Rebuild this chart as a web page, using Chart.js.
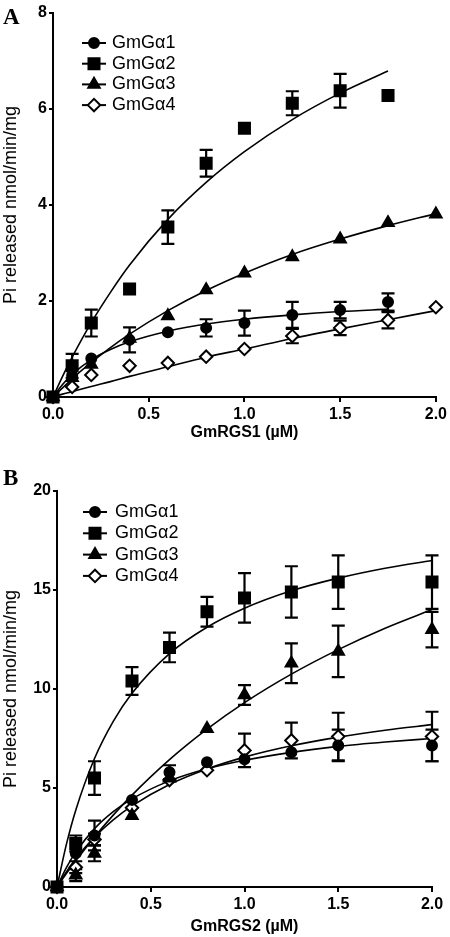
<!DOCTYPE html>
<html>
<head>
    <title>GmRGS GAP assay</title>
    <script src="https://cdn.jsdelivr.net/npm/chart.js"></script>
    <style>
        body { margin: 0; background: #fff; }
        canvas { display: block; }
    </style>
</head>
<body>
    <canvas id="chartA" width="450" height="460"></canvas>
    <canvas id="chartB" width="450" height="477"></canvas>

    <script>
        'use strict';

        // series names and tick labels
        const seriesNames = ['GmG\u03b11', 'GmG\u03b12', 'GmG\u03b13', 'GmG\u03b14'];
        const xTicks = [0, 0.5, 1.0, 1.5, 2.0];
        const yTicksA = [0, 2, 4, 6, 8];
        const yTicksB = [0, 5, 10, 15, 20];

        // panel A: GmRGS1 (uM) vs Pi released
        const doseA = [0, 0.1, 0.2, 0.4, 0.6, 0.8, 1.0, 1.25, 1.5, 1.75, 2.0];
        const a1 = [0, 0.45, 0.80, 1.19, 1.35, 1.44, 1.54, 1.71, 1.81, 1.98, null];
        const a1err = [0, 0, 0, 0.26, 0, 0.18, 0.26, 0.27, 0.17, 0.18, null];
        const a2 = [0, 0.65, 1.54, 2.25, 3.54, 4.87, 5.60, 6.12, 6.38, 6.28, null];
        const a2err = [0, 0.25, 0.28, 0, 0.35, 0.28, 0, 0.25, 0.35, 0, null];
        const a3 = [0, 0.40, 0.68, 1.22, 1.69, 2.23, 2.58, 2.92, 3.29, 3.63, 3.81];
        const a3err = [0, 0, 0, 0, 0, 0, 0, 0, 0, 0, 0];
        const a4 = [0, 0.21, 0.46, 0.65, 0.71, 0.84, 1.00, 1.27, 1.44, 1.60, 1.87];
        const a4err = [0, 0, 0, 0, 0, 0, 0, 0.15, 0.15, 0.17, 0];

        // fitted curves
        const fitX = [0, 0.05, 0.1, 0.2, 0.3, 0.4, 0.6, 0.8, 1.0, 1.25, 1.5, 1.75, 2.0];
        const fitA1 = [0, 0.26, 0.47, 0.78, 0.99, 1.15, 1.37, 1.52, 1.62, 1.71, 1.78, 1.83, null];
        const fitA2 = [0, 0.43, 0.83, 1.55, 2.18, 2.75, 3.70, 4.47, 5.11, 5.78, 6.33, 6.79, null];
        const fitA3 = [0, 0.19, 0.38, 0.72, 1.03, 1.31, 1.80, 2.22, 2.58, 2.97, 3.29, 3.57, 3.82];
        const fitA4 = [0, 0.06, 0.11, 0.22, 0.32, 0.43, 0.63, 0.83, 1.00, 1.22, 1.42, 1.61, 1.80];

        // panel B: GmRGS2 (uM) vs Pi released
        const doseB = [0, 0.1, 0.2, 0.4, 0.6, 0.8, 1.0, 1.25, 1.5, 2.0];
        const b1 = [0, 1.7, 2.6, 4.4, 5.8, 6.3, 6.45, 6.8, 7.15, 7.15];
        const b1err = [0, 0, 0.75, 0, 0.35, 0, 0, 0, 0.8, 0.8];
        const b2 = [0, 2.2, 5.5, 10.4, 12.1, 13.9, 14.6, 14.9, 15.4, 15.4];
        const b2err = [0, 0.4, 0.85, 0.7, 0.75, 0.75, 1.25, 1.3, 1.35, 1.35];
        const b3 = [0, 0.6, 1.7, 3.6, 5.5, 8.0, 9.7, 11.3, 11.9, 13.0];
        const b3err = [0, 0.3, 0.4, 0, 0, 0, 0.5, 1.0, 1.3, 0.9];
        const b4 = [0, 1.0, 2.4, 4.0, 5.4, 5.9, 6.9, 7.4, 7.6, 7.6];
        const b4err = [0, 0.3, 0.3, 0, 0, 0, 0.85, 0.9, 1.2, 1.25];

        const fitB1 = [0, 0.98, 1.76, 2.95, 3.81, 4.45, 5.36, 5.97, 6.40, 6.80, 7.10, 7.32, 7.50];
        const fitB2 = [0, 2.15, 3.88, 6.49, 8.37, 9.79, 11.79, 13.12, 14.08, 14.96, 15.60, 16.10, 16.49];
        const fitB3 = [0, 0.68, 1.32, 2.53, 3.63, 4.64, 6.43, 7.97, 9.31, 10.75, 11.99, 13.07, 14.01];
        const fitB4 = [0, 0.76, 1.43, 2.52, 3.39, 4.10, 5.18, 5.96, 6.56, 7.13, 7.57, 7.92, 8.20];

        const FONT = "'Liberation Sans', Arial, Helvetica, sans-serif";

        // marker look per series
        const markers = [
            { style: 'circle', radius: 5, fill: '#000' },
            { style: 'rect', radius: 7.8, fill: '#000' },
            { style: 'triangle', radius: 6.6, fill: '#000' },
            { style: 'rectRot', radius: 6.2, fill: '#fff' }
        ];

        function toPoints(xs, ys, errs) {
            const out = [];
            for (let i = 0; i < xs.length; i++) {
                if (ys[i] === null || ys[i] === undefined) continue;
                out.push({ x: xs[i], y: ys[i], err: errs ? errs[i] : 0 });
            }
            return out;
        }

        function drawMarker(ctx, m, x, y) {
            ctx.save();
            ctx.fillStyle = m.fill;
            ctx.strokeStyle = '#000';
            ctx.lineWidth = 2;
            ctx.beginPath();
            const r = m.radius;
            if (m.style === 'circle') {
                ctx.arc(x, y, r, 0, Math.PI * 2);
            } else if (m.style === 'rect') {
                const s = r * Math.SQRT1_2;
                ctx.rect(x - s, y - s, 2 * s, 2 * s);
            } else if (m.style === 'triangle') {
                ctx.moveTo(x, y - r);
                ctx.lineTo(x + r * 0.866, y + r * 0.5);
                ctx.lineTo(x - r * 0.866, y + r * 0.5);
                ctx.closePath();
            } else {
                ctx.moveTo(x - r, y);
                ctx.lineTo(x, y - r);
                ctx.lineTo(x + r, y);
                ctx.lineTo(x, y + r);
                ctx.closePath();
            }
            ctx.fill();
            ctx.stroke();
            ctx.restore();
        }

        // vertical error bars with caps, drawn beneath the markers
        const errorBars = {
            id: 'errorBars',
            beforeDatasetsDraw(chart) {
                const ctx = chart.ctx;
                const yScale = chart.scales.y;
                ctx.save();
                ctx.strokeStyle = '#000';
                ctx.lineWidth = 2.2;
                chart.data.datasets.forEach((ds, i) => {
                    if (!ds.isData) return;
                    const meta = chart.getDatasetMeta(i);
                    meta.data.forEach((el, j) => {
                        const p = ds.data[j];
                        if (!p.err) return;
                        const top = yScale.getPixelForValue(p.y + p.err);
                        const bot = yScale.getPixelForValue(p.y - p.err);
                        ctx.beginPath();
                        ctx.moveTo(el.x, top);
                        ctx.lineTo(el.x, bot);
                        ctx.moveTo(el.x - 6.5, top);
                        ctx.lineTo(el.x + 6.5, top);
                        ctx.moveTo(el.x - 6.5, bot);
                        ctx.lineTo(el.x + 6.5, bot);
                        ctx.stroke();
                    });
                });
                ctx.restore();
            }
        };

        // legend inside plot area plus panel letter
        const insideLegend = {
            id: 'insideLegend',
            afterDraw(chart, args, opts) {
                const ctx = chart.ctx;
                ctx.save();
                ctx.fillStyle = '#000';
                ctx.font = 'bold 23px "Liberation Serif", "Times New Roman", serif';
                ctx.textBaseline = 'alphabetic';
                ctx.fillText(opts.letter, opts.letterX, opts.letterY);

                ctx.font = '18px ' + FONT;
                ctx.textBaseline = 'middle';
                seriesNames.forEach((name, i) => {
                    const y = opts.y + i * opts.step;
                    ctx.strokeStyle = '#000';
                    ctx.lineWidth = 2;
                    ctx.beginPath();
                    ctx.moveTo(opts.x - 12, y);
                    ctx.lineTo(opts.x + 12, y);
                    ctx.stroke();
                    drawMarker(ctx, markers[i], opts.x, y);
                    ctx.fillStyle = '#000';
                    ctx.fillText(name, opts.textX, y);
                });
                ctx.restore();
            }
        };

        function makePanel(id, cfg) {
            const datasets = [];
            cfg.fits.forEach((f) => {
                datasets.push({
                    type: 'line',
                    data: toPoints(fitX, f),
                    borderColor: '#000',
                    borderWidth: 1.6,
                    pointRadius: 0,
                    fill: false,
                    cubicInterpolationMode: 'monotone',
                    clip: false,
                    order: 2
                });
            });
            cfg.series.forEach((s, i) => {
                const m = markers[i];
                datasets.push({
                    type: 'scatter',
                    label: seriesNames[i],
                    isData: true,
                    data: toPoints(cfg.dose, s, cfg.errs[i]),
                    showLine: false,
                    pointStyle: m.style,
                    pointRadius: m.radius,
                    pointBackgroundColor: m.fill,
                    pointBorderColor: '#000',
                    pointBorderWidth: 2,
                    clip: false,
                    order: 1
                });
            });

            return new Chart(document.getElementById(id), {
                type: 'scatter',
                data: { datasets: datasets },
                options: {
                    responsive: false,
                    animation: false,
                    events: [],
                    layout: { padding: cfg.padding },
                    scales: {
                        x: {
                            type: 'linear',
                            min: 0,
                            max: 2,
                            afterBuildTicks: (s) => { s.ticks = xTicks.map(v => ({ value: v })); },
                            afterFit: (s) => { s.height = cfg.xHeight; },
                            border: { display: true, color: '#000', width: 2 },
                            grid: { drawOnChartArea: false, drawTicks: true, tickLength: 5, color: '#000', lineWidth: 2 },
                            ticks: {
                                color: '#000',
                                padding: 3,
                                font: { family: FONT, size: 16, weight: 'bold' },
                                callback: (v) => Number(v).toFixed(1)
                            },
                            title: {
                                display: true,
                                text: cfg.xTitle,
                                color: '#000',
                                font: { family: FONT, size: 16, weight: 'bold' },
                                padding: { top: 0, bottom: cfg.xTitlePad }
                            }
                        },
                        y: {
                            type: 'linear',
                            min: 0,
                            max: cfg.yTicks[cfg.yTicks.length - 1],
                            afterBuildTicks: (s) => { s.ticks = cfg.yTicks.map(v => ({ value: v })); },
                            afterFit: (s) => { s.width = cfg.yWidth; },
                            border: { display: true, color: '#000', width: 2 },
                            grid: { drawOnChartArea: false, drawTicks: true, tickLength: 4, color: '#000', lineWidth: 2 },
                            ticks: {
                                color: '#000',
                                padding: 2,
                                font: { family: FONT, size: 16, weight: 'bold' }
                            },
                            title: {
                                display: true,
                                text: 'Pi released nmol/min/mg',
                                color: '#000',
                                font: { family: FONT, size: 18 },
                                padding: { top: 0, bottom: 0 }
                            }
                        }
                    },
                    plugins: {
                        legend: { display: false },
                        tooltip: { enabled: false },
                        insideLegend: cfg.legend
                    }
                },
                plugins: [errorBars, insideLegend]
            });
        }

        makePanel('chartA', {
            dose: doseA,
            series: [a1, a2, a3, a4],
            errs: [a1err, a2err, a3err, a4err],
            fits: [fitA1, fitA2, fitA3, fitA4],
            yTicks: yTicksA,
            xTitle: 'GmRGS1 (\u00b5M)',
            padding: { top: 13, right: 12, left: 0, bottom: 0 },
            xHeight: 63,
            yWidth: 53,
            xTitlePad: 18,
            legend: { letter: 'A', letterX: 3, letterY: 24, x: 94, textX: 112, y: 43, step: 20.7 }
        });

        makePanel('chartB', {
            dose: doseB,
            series: [b1, b2, b3, b4],
            errs: [b1err, b2err, b3err, b4err],
            fits: [fitB1, fitB2, fitB3, fitB4],
            yTicks: yTicksB,
            xTitle: 'GmRGS2 (\u00b5M)',
            padding: { top: 31, right: 18, left: 0, bottom: 0 },
            xHeight: 50,
            yWidth: 57,
            xTitlePad: 1,
            legend: { letter: 'B', letterX: 3, letterY: 25, x: 95, textX: 115, y: 52, step: 21.3 }
        });
    </script>
</body>
</html>
